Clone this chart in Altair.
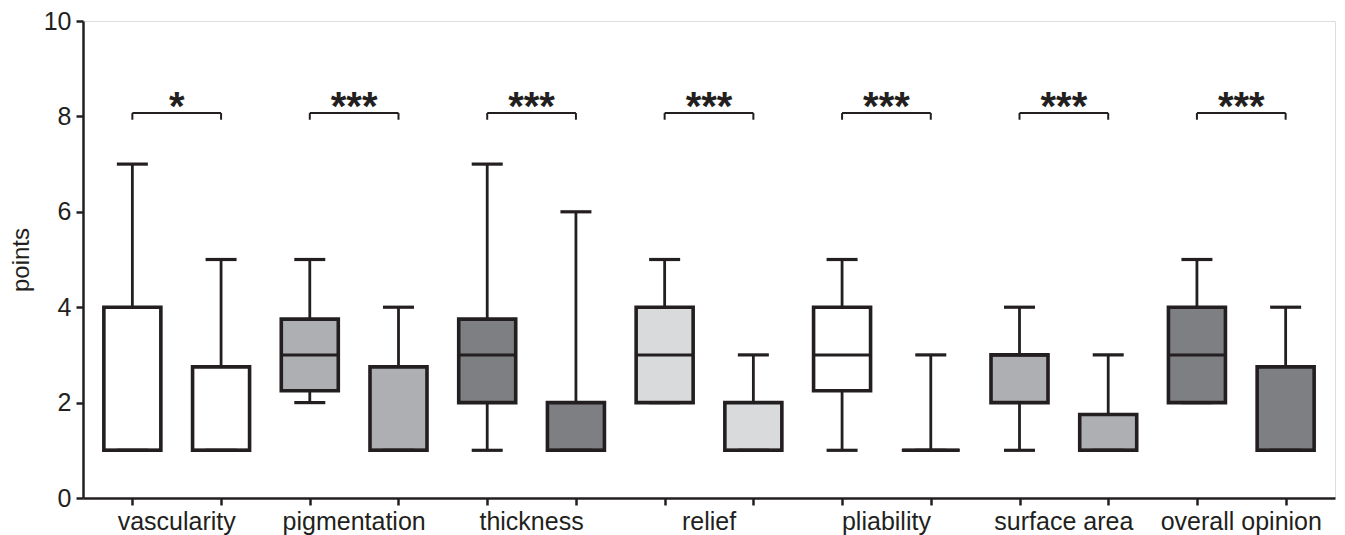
import altair as alt
import pandas as pd

# ---- data ----
categories = ["vascularity", "pigmentation", "thickness", "relief",
              "pliability", "surface area", "overall opinion"]
box_lows    = [1, 1, 2, 1, 1, 1, 2, 1, 1, 1, 1, 1, 2, 1]
box_q1      = [1, 1, 2.25, 1, 2, 1, 2, 1, 2.25, 1, 2, 1, 2, 1]
box_medians = [1, 1, 3, 1, 3, 1, 3, 1, 3, 1, 3, 1, 3, 1]
box_q3      = [4, 2.75, 3.75, 2.75, 3.75, 2, 4, 2, 4, 1, 3, 1.75, 4, 2.75]
box_highs   = [7, 5, 5, 4, 7, 6, 5, 3, 5, 3, 4, 3, 5, 4]
significance = ["*", "***", "***", "***", "***", "***", "***"]
bracket_level = 8.07
bracket_tip = 7.93
y_ticks = [0, 2, 4, 6, 8, 10]

palette = ["#FFFFFF", "#AEAFB2", "#7E7F83", "#D9DADC",
           "#FFFFFF", "#AEAFB2", "#7E7F83"]
INK = "#231F20"

W, H = 1252, 477

boxes = pd.DataFrame({
    "pos": list(range(1, 15)),
    "category": [c for c in categories for _ in range(2)],
    "low": box_lows, "q1": box_q1, "median": box_medians,
    "q3": box_q3, "high": box_highs,
})
pairs = pd.DataFrame({
    "category": categories,
    "left": [2 * i + 1 for i in range(len(categories))],
    "right": [2 * i + 2 for i in range(len(categories))],
    "center": [2 * i + 1.5 for i in range(len(categories))],
    "stars": significance,
    "level": [bracket_level] * len(categories),
    "tip": [bracket_tip] * len(categories),
})

xscale = alt.Scale(domain=[0.5, 14.5], nice=False, zero=False)
yscale = alt.Scale(domain=[0, 10], nice=False)

x_axis = alt.Axis(values=list(range(1, 15)), labels=False, title=None,
                  tickSize=7, tickWidth=2.5, tickColor=INK,
                  domainWidth=2.5, domainColor=INK, grid=False)
y_axis = alt.Axis(values=y_ticks, title="points", tickSize=7, tickWidth=2.5,
                  tickColor=INK, domainWidth=2.5, domainColor=INK,
                  labelFontSize=25, labelColor=INK, labelPadding=5,
                  labelFont="Liberation Sans", titleFont="Liberation Sans",
                  titleFontSize=24, titleFontWeight="normal", titleColor=INK,
                  titlePadding=10, grid=False)

base = alt.Chart(boxes)
X = alt.X("pos:Q", scale=xscale, axis=x_axis)

whisk_hi = base.mark_rule(strokeWidth=2.8, color=INK).encode(
    x=X, y=alt.Y("q3:Q", scale=yscale, axis=y_axis), y2="high:Q")
whisk_lo = base.mark_rule(strokeWidth=2.8, color=INK).encode(
    x=X, y=alt.Y("low:Q", scale=yscale), y2="q1:Q")
box = base.mark_bar(size=57, stroke=INK, strokeWidth=3.6).encode(
    x=X, y=alt.Y("q1:Q", scale=yscale), y2="q3:Q",
    fill=alt.Fill("category:N", scale=alt.Scale(domain=categories, range=palette),
                  legend=None))
median = base.mark_tick(orient="horizontal", size=58, thickness=3, color=INK,
                        opacity=1).encode(x=X, y=alt.Y("median:Q", scale=yscale))
cap_hi = base.mark_tick(orient="horizontal", size=31, thickness=3.2, color=INK,
                        opacity=1).encode(x=X, y=alt.Y("high:Q", scale=yscale))
cap_lo = base.mark_tick(orient="horizontal", size=31, thickness=3.2, color=INK,
                        opacity=1).encode(x=X, y=alt.Y("low:Q", scale=yscale))

pb = alt.Chart(pairs)
br_h = pb.mark_rule(strokeWidth=2, color=INK).encode(
    x=alt.X("left:Q", scale=xscale), x2="right:Q",
    y=alt.Y("level:Q", scale=yscale))
br_l = pb.mark_rule(strokeWidth=2, color=INK).encode(
    x=alt.X("left:Q", scale=xscale), y=alt.Y("level:Q", scale=yscale), y2="tip:Q")
br_r = pb.mark_rule(strokeWidth=2, color=INK).encode(
    x=alt.X("right:Q", scale=xscale), y=alt.Y("level:Q", scale=yscale), y2="tip:Q")
stars = pb.mark_text(font="Liberation Sans", fontWeight="bold", fontSize=40,
                     color=INK, baseline="alphabetic", align="center").encode(
    x=alt.X("center:Q", scale=xscale), y=alt.Y("tip:Q", scale=yscale),
    text="stars:N")
labels = pb.mark_text(font="Liberation Sans", fontSize=25, color=INK,
                      baseline="alphabetic", align="center").encode(
    x=alt.X("center:Q", scale=xscale), y=alt.value(H + 32), text="category:N")

chart = alt.layer(whisk_hi, whisk_lo, box, median, cap_hi, cap_lo,
                  br_h, br_l, br_r, stars, labels).properties(
    width=W, height=H,
    autosize=alt.AutoSizeParams(type="none"),
    padding={"left": 75, "top": 13, "right": 2, "bottom": 37},
).configure_view(stroke=None).configure(background="white")

chart.save("out.html", embed_options={"renderer": "svg", "actions": False})
